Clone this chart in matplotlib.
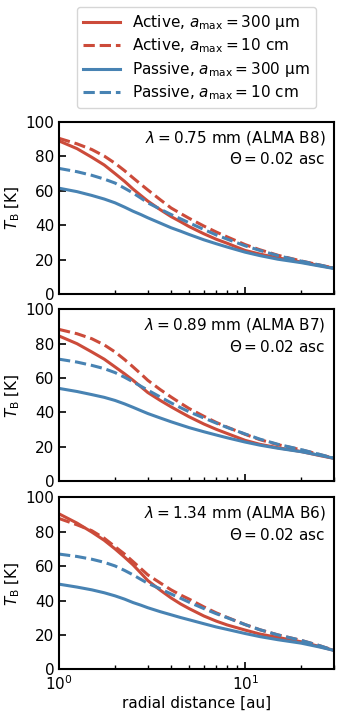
import matplotlib
matplotlib.use("Agg")
import matplotlib.pyplot as plt

radius = [1, 1.25, 1.5, 1.75, 2, 2.25, 2.5, 2.75, 3, 3.5, 4, 4.5, 5, 6, 7, 8, 10, 12, 15, 20, 25, 30]

b8_active_300um  = [89, 84.5, 79.5, 75, 70, 65.5, 61, 57.3, 54, 49, 45, 42, 39.2, 35, 31.8, 29.5, 25.3, 23.2, 21, 18.6, 16.6, 15]
b8_active_10cm   = [90.5, 87.3, 84, 80.2, 76, 71.7, 67.5, 63.8, 60.5, 54.8, 50, 46.8, 44, 39.5, 36, 33.2, 28.7, 25.7, 22.5, 19.2, 16.9, 15]
b8_passive_300um = [61.5, 59.5, 57.3, 55.2, 53, 50.5, 48.1, 46.2, 44.3, 41.2, 38.5, 36.5, 34.6, 31.5, 29.2, 27.3, 24.3, 22.3, 20.2, 18.2, 16.3, 14.8]
b8_passive_10cm  = [73, 71.1, 69, 66.8, 64.5, 61.5, 58.7, 55.8, 53, 49.3, 46.2, 43.7, 41.4, 37.5, 34.3, 31.9, 28, 25.3, 22.3, 19.1, 16.9, 15]

b7_active_300um  = [84.5, 80, 75.2, 71, 66.5, 62.5, 58.7, 55, 51.6, 47, 43.3, 40.2, 37.5, 33.3, 30.2, 27.8, 23.8, 21.5, 19.5, 17.3, 15, 13.3]
b7_active_10cm   = [88.3, 85.8, 82.9, 79.3, 75.2, 70.8, 66.5, 62.5, 58.7, 53.3, 49, 45.4, 42.3, 37.8, 34.2, 31.5, 27.3, 24.2, 21.3, 18.3, 15.6, 13.4]
b7_passive_300um = [54, 52.2, 50.4, 48.8, 47, 45, 43, 41.1, 39.4, 36.8, 34.6, 32.8, 31.2, 28.8, 26.9, 25.3, 22.8, 21, 19.2, 17.2, 15.2, 13.4]
b7_passive_10cm  = [71, 69.3, 67.4, 65.5, 63.2, 60.5, 57.8, 55.3, 53, 49, 45.6, 42.8, 40.4, 36.8, 33.8, 31.3, 27.5, 24.5, 21.5, 18.4, 15.7, 13.4]

b6_active_300um  = [90.4, 85, 79.8, 75, 70, 65.2, 60.7, 56, 51.6, 46, 41.5, 38, 35.3, 31, 28, 25.8, 22.8, 20.5, 18.5, 16, 13.3, 11]
b6_active_10cm   = [87.7, 84, 80.6, 76.2, 71.3, 67, 62.6, 58.6, 54.9, 50.2, 46.2, 43.2, 40.8, 36.3, 32.8, 30.2, 26, 23, 20, 16.8, 13.8, 11]
b6_passive_300um = [49.5, 47.8, 46.2, 44.5, 42.7, 40.8, 38.8, 37.3, 35.8, 33.5, 31.7, 30.1, 28.8, 26.5, 24.6, 23.2, 20.8, 19, 17.2, 15.2, 13, 11]
b6_passive_10cm  = [67, 65.6, 64, 62.2, 60.1, 57.5, 54.9, 52.3, 50, 46.8, 43.8, 41.3, 39, 35.3, 32.3, 30, 26, 23, 20, 16.8, 13.8, 11]

panel_wavelengths = ["0.75", "0.89", "1.34"]
panel_bands = ["B8", "B7", "B6"]
legend_labels = [r"Active, $a_\mathrm{max} = 300$ µm",
                 r"Active, $a_\mathrm{max} = 10$ cm",
                 r"Passive, $a_\mathrm{max} = 300$ µm",
                 r"Passive, $a_\mathrm{max} = 10$ cm"]

panels = [
    (b8_active_300um, b8_active_10cm, b8_passive_300um, b8_passive_10cm),
    (b7_active_300um, b7_active_10cm, b7_passive_300um, b7_passive_10cm),
    (b6_active_300um, b6_active_10cm, b6_passive_300um, b6_passive_10cm),
]

red = "#cc4b3a"
blue = "#4883b3"
styles = [(red, "-"), (red, "--"), (blue, "-"), (blue, "--")]

plt.rcParams["font.family"] = "DejaVu Sans"
fig = plt.figure(figsize=(3.42, 7.13), dpi=100)
left, width = 0.1725, 0.804
bottoms = [0.5877, 0.3250, 0.0613]
height = 0.2412

handles = []
for i, (series, lam, band) in enumerate(zip(panels, panel_wavelengths, panel_bands)):
    ax = fig.add_axes([left, bottoms[i], width, height])
    for vals, (c, ls) in zip(series, styles):
        ln, = ax.plot(radius, vals, color=c, ls=ls, lw=2.2)
        if i == 0:
            handles.append(ln)
    ax.set_xscale("log")
    ax.set_xlim(1, 30)
    ax.set_ylim(0, 100)
    ax.set_yticks([0, 20, 40, 60, 80, 100])
    ax.tick_params(which="both", direction="in", labelsize=11)
    ax.tick_params(which="major", length=5, width=1.2)
    ax.tick_params(which="minor", length=3, width=1.0)
    for s in ax.spines.values():
        s.set_linewidth(1.5)
    ax.set_ylabel(r"$T_\mathrm{B}$ [K]", fontsize=11, labelpad=2)
    ax.text(0.97, 0.96, r"$\lambda = %s$ mm (ALMA %s)" % (lam, band),
            transform=ax.transAxes, ha="right", va="top", fontsize=11)
    ax.text(0.97, 0.83, r"$\Theta = 0.02$ asc",
            transform=ax.transAxes, ha="right", va="top", fontsize=11)
    if i < 2:
        ax.tick_params(labelbottom=False)
    else:
        ax.set_xlabel("radial distance [au]", fontsize=11, labelpad=2)

fig.legend(handles, legend_labels, loc="upper center", bbox_to_anchor=(0.574, 1.0),
           borderaxespad=0.45, fontsize=11, handlelength=2.4, labelspacing=0.3,
           frameon=True)
fig.savefig("out.png", dpi=100)
